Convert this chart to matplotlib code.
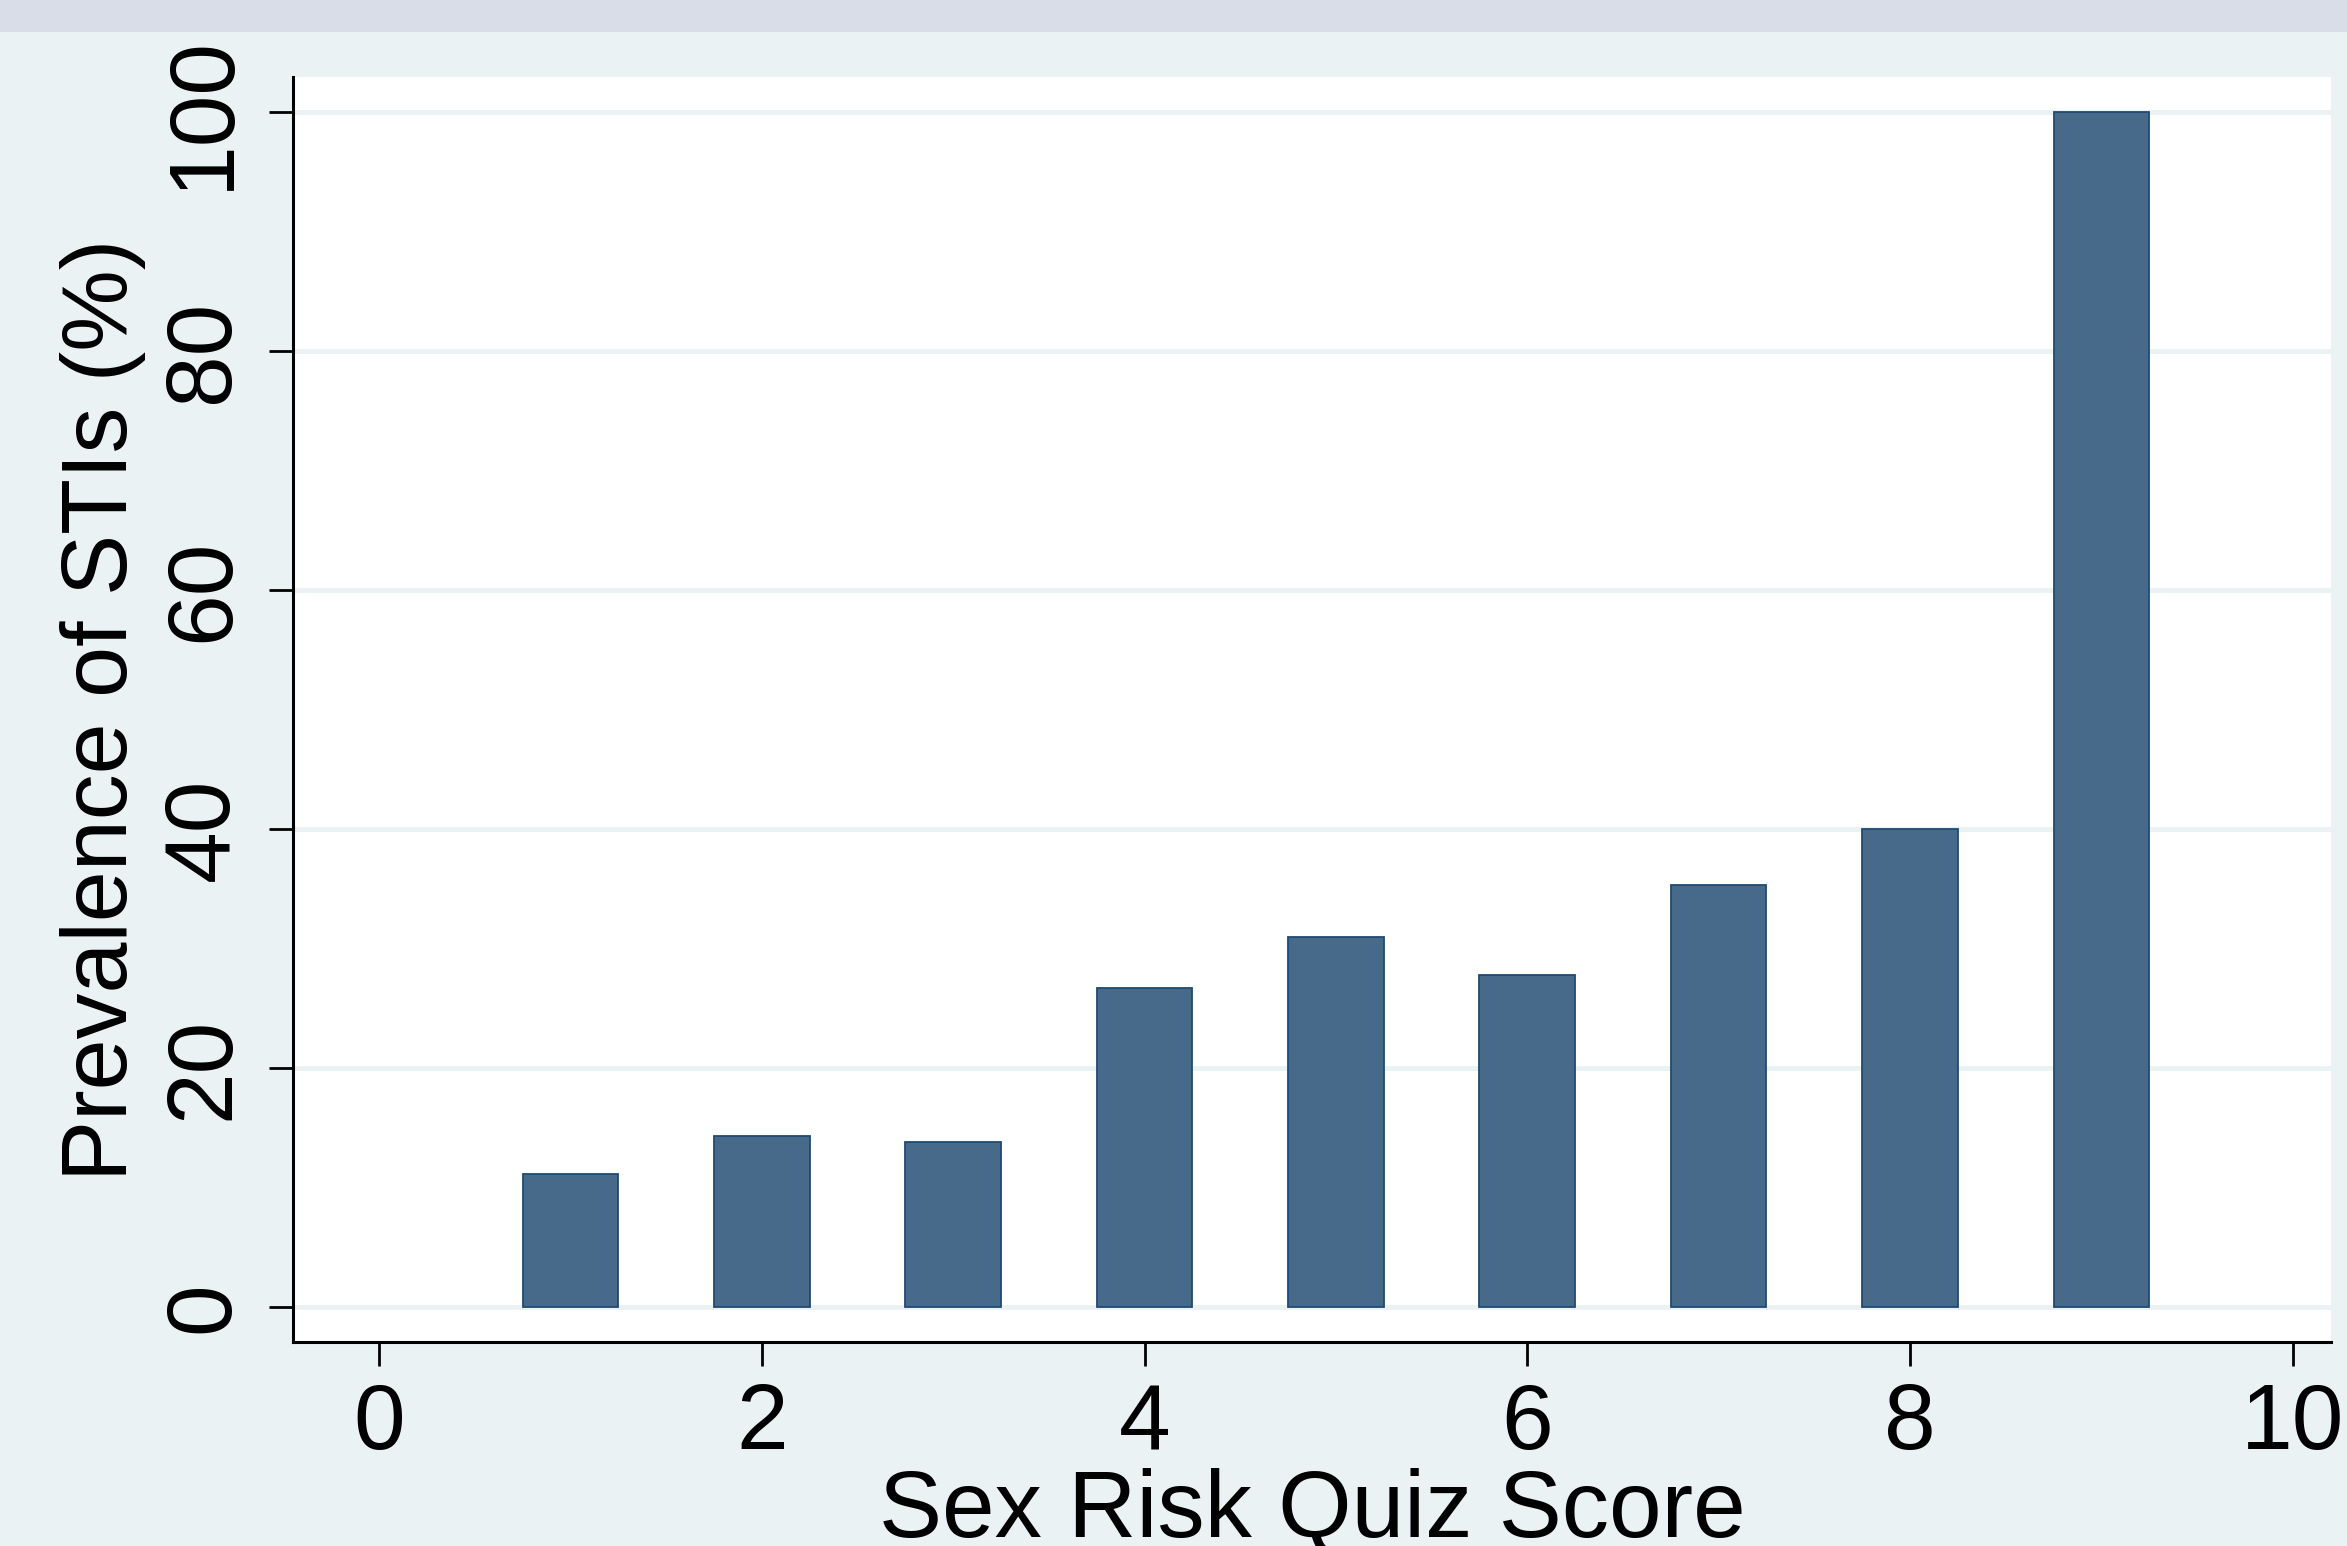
import matplotlib
matplotlib.use("Agg")
import matplotlib.pyplot as plt
from matplotlib.patches import Rectangle

# Data
scores = [1, 2, 3, 4, 5, 6, 7, 8, 9]
prevalence = [11.1, 14.3, 13.8, 26.7, 31.0, 27.8, 35.3, 40.0, 100.0]
x_ticks = [0, 2, 4, 6, 8, 10]
y_ticks = [0, 20, 40, 60, 80, 100]
x_title = "Sex Risk Quiz Score"
y_title = "Prevalence of STIs (%)"

plt.rcParams['font.family'] = ['Liberation Sans', 'DejaVu Sans']

W, H = 2347, 1546
fig = plt.figure(figsize=(W / 100, H / 100), dpi=100)
fig.patch.set_facecolor('#EAF2F3')
# top band
fig.patches.append(Rectangle((0, 1 - 32 / H), 1, 32 / H, transform=fig.transFigure,
                             facecolor='#D8DDE7', edgecolor='none', zorder=0))

left, right = 293 / W, 2331 / W
bottom, top = 1 - 1342 / H, 1 - 77 / H
ax = fig.add_axes([left, bottom, right - left, top - bottom])
ax.set_facecolor('white')

ax.bar(scores, prevalence, width=0.5, color='#476A8B', edgecolor='#1F4A72',
       linewidth=1.3, zorder=3)

ax.set_xlim(-0.45, 10.2)
ax.set_ylim(-2.93, 102.93)
ax.set_xticks(x_ticks)
ax.set_yticks(y_ticks)
ax.set_xticklabels([str(v) for v in x_ticks])
ax.set_yticklabels([str(v) for v in y_ticks], rotation=90, va='center')

ax.grid(axis='y', color='#EAF2F3', linewidth=3.6, zorder=0)
ax.grid(axis='x', visible=False)
ax.set_axisbelow(True)

for s in ['top', 'right']:
    ax.spines[s].set_visible(False)
for s in ['left', 'bottom']:
    ax.spines[s].set_linewidth(2.2)
    ax.spines[s].set_color('black')

ax.tick_params(axis='both', direction='out', length=17, width=2, colors='black',
               labelsize=67)
ax.tick_params(axis='x', pad=12)
ax.tick_params(axis='y', pad=16)

ax.set_xlabel(x_title, fontsize=68, labelpad=0)
ax.set_ylabel(y_title, fontsize=66, labelpad=11)

fig.savefig('out.png', dpi=100, facecolor=fig.get_facecolor())
